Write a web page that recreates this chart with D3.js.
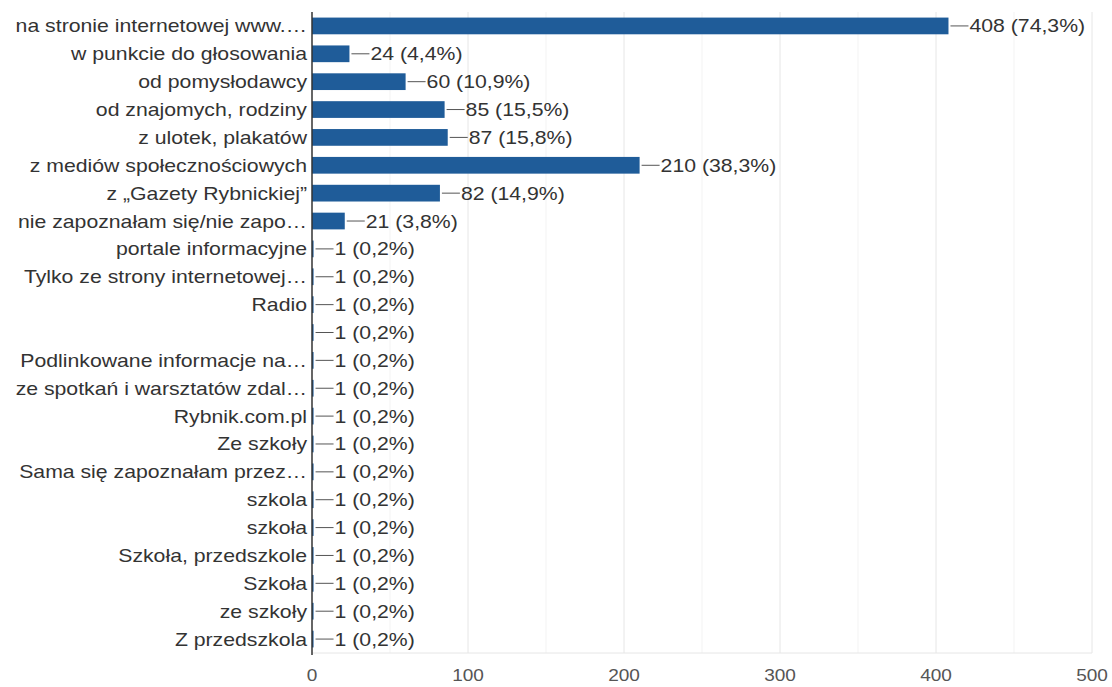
<!DOCTYPE html>
<html><head><meta charset="utf-8">
<script src="https://cdn.jsdelivr.net/npm/d3@7"></script>
<style>body{margin:0;background:#fff;} text{font-family:"Liberation Sans",Arial,sans-serif;}</style>
</head><body><svg id="c" width="1112" height="687"></svg>
<script>
const categories = ["na stronie internetowej www.…","w punkcie do głosowania","od pomysłodawcy","od znajomych, rodziny","z ulotek, plakatów","z mediów społecznościowych","z „Gazety Rybnickiej”","nie zapoznałam się/nie zapo…","portale informacyjne","Tylko ze strony internetowej…","Radio","","Podlinkowane informacje na…","ze spotkań i warsztatów zdal…","Rybnik.com.pl","Ze szkoły","Sama się zapoznałam przez…","szkola","szkoła","Szkoła, przedszkole","Szkoła","ze szkoły","Z przedszkola"];
const values = [408,24,60,85,87,210,82,21,1,1,1,1,1,1,1,1,1,1,1,1,1,1,1];
const percents = ["74,3%","4,4%","10,9%","15,5%","15,8%","38,3%","14,9%","3,8%","0,2%","0,2%","0,2%","0,2%","0,2%","0,2%","0,2%","0,2%","0,2%","0,2%","0,2%","0,2%","0,2%","0,2%","0,2%"];
const xTicks = [0,100,200,300,400,500];
const minorTicks = [50,150,250,350,450];

const SX = 1.18;
const svg = d3.select("#c");
const m = {left:312, right:1092, top:12, bottom:653};
const x = d3.scaleLinear().domain([0,500]).range([m.left, m.right]);
const y = d3.scaleBand().domain(categories.map((d,i)=>i)).range([m.top, m.bottom]).paddingInner(0.4).paddingOuter(0.2);
const cy = i => y(i)+y.bandwidth()/2;

// grid
svg.selectAll(".minor").data(minorTicks).join("line")
  .attr("x1",d=>x(d)).attr("x2",d=>x(d)).attr("y1",m.top).attr("y2",m.bottom)
  .attr("stroke","#f3f3f3").attr("stroke-width",1);
svg.selectAll(".major").data(xTicks.slice(1)).join("line")
  .attr("x1",d=>x(d)).attr("x2",d=>x(d)).attr("y1",m.top).attr("y2",m.bottom)
  .attr("stroke","#e6e6e6").attr("stroke-width",1);
svg.append("line").attr("x1",m.left).attr("x2",m.right).attr("y1",m.bottom).attr("y2",m.bottom).attr("stroke","#e6e6e6");

// bars
svg.selectAll(".bar").data(values).join("rect")
  .attr("x",x(0)).attr("y",(d,i)=>y(i)).attr("width",d=>x(d)-x(0)).attr("height",y.bandwidth())
  .attr("fill","#1f5c99");

// leader lines + labels
svg.selectAll(".lead").data(values).join("line")
  .attr("x1",d=>x(d)+2).attr("x2",d=>x(d)+20)
  .attr("y1",(d,i)=>cy(i)).attr("y2",(d,i)=>cy(i))
  .attr("stroke","#555").attr("stroke-width",1);
svg.selectAll(".val").data(values).join("text")
  .attr("transform",(d,i)=>`translate(${x(d)+21},${cy(i)}) scale(${SX},1)`)
  .attr("dy","0.36em")
  .attr("font-size",18).attr("fill","#333")
  .text((d,i)=>d+" ("+percents[i]+")");

// category labels
svg.selectAll(".cat").data(categories).join("text")
  .attr("transform",(d,i)=>`translate(${m.left-5},${cy(i)}) scale(${SX},1)`)
  .attr("dy","0.36em")
  .attr("text-anchor","end").attr("font-size",18).attr("fill","#333")
  .text(d=>d);

// y axis line
svg.append("line").attr("x1",m.left).attr("x2",m.left).attr("y1",m.top).attr("y2",m.bottom+2)
  .attr("stroke","#333").attr("stroke-width",1.5);

// x tick labels
svg.selectAll(".xt").data(xTicks).join("text")
  .attr("transform",d=>`translate(${x(d)},681) scale(1.12,1)`)
  .attr("text-anchor","middle")
  .attr("font-size",17).attr("fill","#555").text(d=>d);
</script></body></html>
